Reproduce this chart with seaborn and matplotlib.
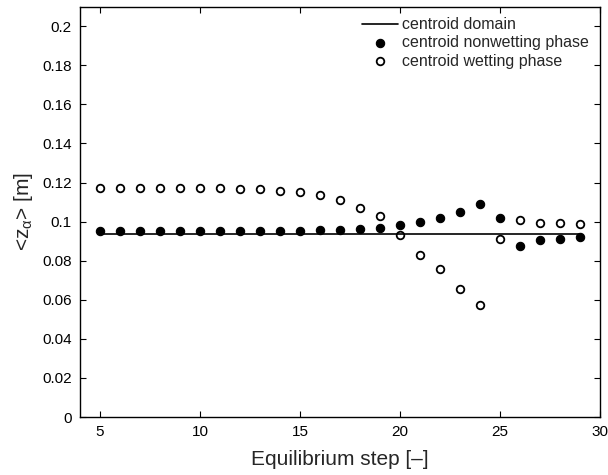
import matplotlib
matplotlib.use("Agg")
import matplotlib.pyplot as plt
import numpy as np
import pandas as pd
import seaborn as sns

# Gleichgewichtsschritte
steps = list(range(5, 30))

# Schwerpunkt nichtbenetzende Phase
z_nonwetting = [0.0954, 0.0954, 0.0954, 0.0954, 0.0954, 0.0954, 0.0954, 0.0954,
                0.0954, 0.0954, 0.0954, 0.0955, 0.0957, 0.0963, 0.0966, 0.0981,
                0.1000, 0.1021, 0.1051, 0.1091, 0.1017, 0.0877, 0.0908, 0.0911,
                0.0923]

# Schwerpunkt benetzende Phase
z_wetting = [0.1174, 0.1174, 0.1174, 0.1174, 0.1174, 0.1171, 0.1170, 0.1166,
             0.1166, 0.1159, 0.1151, 0.1136, 0.1111, 0.1070, 0.1029, 0.0930,
             0.0829, 0.0757, 0.0656, 0.0571, 0.0911, 0.1007, 0.0995, 0.0995,
             0.0990]

# Schwerpunkt Domain (konstant)
z_domain = [0.0935] * len(steps)

df = pd.DataFrame({"step": steps, "nw": z_nonwetting, "w": z_wetting, "dom": z_domain})

sns.set_style("ticks")
plt.rcParams["font.family"] = ["Liberation Sans", "DejaVu Sans"]
plt.rcParams["mathtext.fontset"] = "custom"
plt.rcParams["mathtext.rm"] = "Liberation Sans"
plt.rcParams["mathtext.it"] = "Liberation Sans"

fig = plt.figure(figsize=(6.08, 4.75), dpi=100)
ax = fig.add_axes([0.1316, 0.1221, 0.8552, 0.8638])

sns.lineplot(data=df, x="step", y="dom", color="black", linewidth=1.2,
             label="centroid domain", ax=ax)
sns.scatterplot(data=df, x="step", y="nw", color="black", edgecolor="black",
                s=36, linewidth=0.8, label="centroid nonwetting phase", ax=ax)
sns.scatterplot(data=df, x="step", y="w", facecolor="white", edgecolor="black",
                s=30, linewidth=1.3, label="centroid wetting phase", ax=ax)

ax.set_xlim(4, 30)
ax.set_ylim(0, 0.21)
ax.set_xticks([5, 10, 15, 20, 25, 30])
yt = np.arange(0, 0.201, 0.02)
ax.set_yticks(yt)
ax.set_yticklabels(["0"] + [f"{v:g}" for v in yt[1:]])
ax.tick_params(direction="in", top=True, right=True, length=4, width=0.8,
               labelsize=11, colors="black", pad=6)
for sp in ax.spines.values():
    sp.set_linewidth(1.0)
    sp.set_color("black")

ax.set_xlabel("Equilibrium step [–]", fontsize=15, labelpad=8)
ax.set_ylabel(r"<z$_{\alpha}$> [m]", fontsize=15, labelpad=5)

leg = ax.legend(loc="upper right", bbox_to_anchor=(0.99, 0.99), frameon=False,
                fontsize=11.5, handlelength=2.2, handletextpad=0.25,
                labelspacing=0.2, borderaxespad=0)

fig.savefig("out.png", dpi=100)
